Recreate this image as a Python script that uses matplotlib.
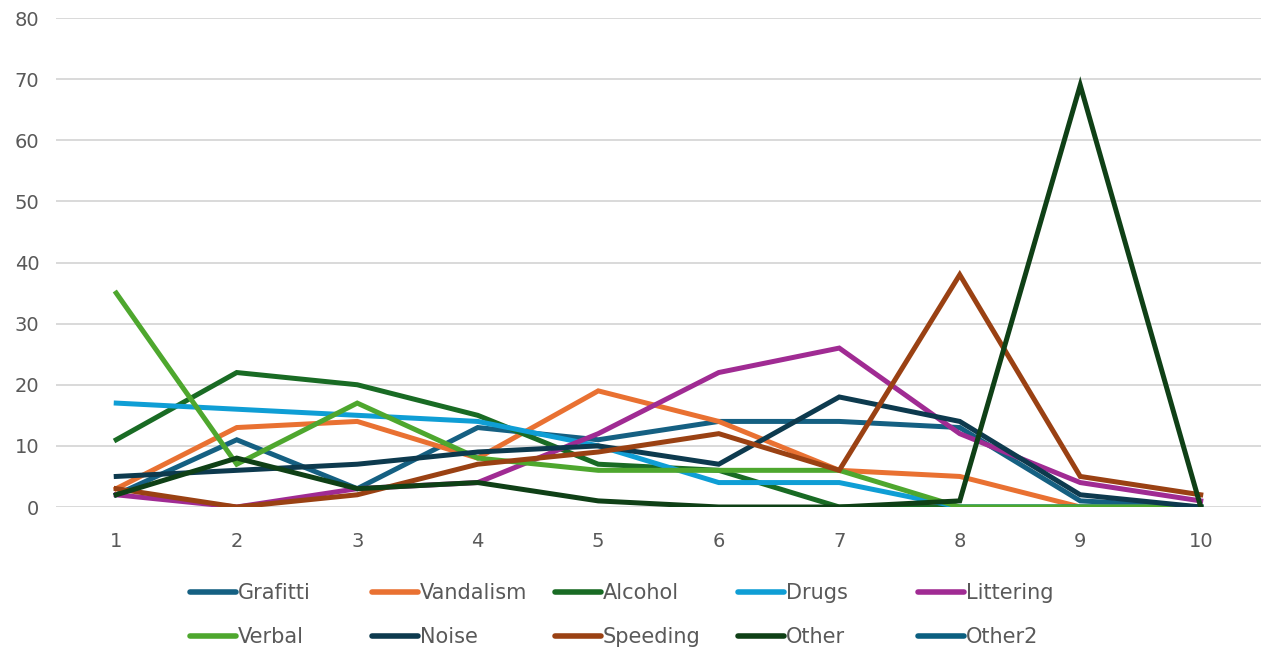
import numpy as np
import matplotlib.pyplot as plt
from matplotlib.lines import Line2D

weeks = [1, 2, 3, 4, 5, 6, 7, 8, 9, 10]

grafitti = [2, 11, 3, 13, 11, 14, 14, 13, 1, 0]
vandalism = [3, 13, 14, 8, 19, 14, 6, 5, 0, 0]
alcohol = [11, 22, 20, 15, 7, 6, 0, 0, 0, 0]
drugs = [17, 16, 15, 14, 10, 4, 4, 0, 0, 0]
littering = [2, 0, 3, 4, 12, 22, 26, 12, 4, 1]
verbal = [35, 7, 17, 8, 6, 6, 6, 0, 0, 0]
noise = [5, 6, 7, 9, 10, 7, 18, 14, 2, 0]
speeding = [3, 0, 2, 7, 9, 12, 6, 38, 5, 2]
other = [2, 8, 3, 4, 1, 0, 0, 1, 69, 0]
other2 = [np.nan] * 10  # no entries recorded

names = ["Grafitti", "Vandalism", "Alcohol", "Drugs", "Littering",
         "Verbal", "Noise", "Speeding", "Other", "Other2"]
series = [grafitti, vandalism, alcohol, drugs, littering,
          verbal, noise, speeding, other, other2]
colors = ["#156082", "#E97132", "#196B24", "#0F9ED5", "#A02B93",
          "#4EA72E", "#0D3A4E", "#9A4113", "#0F4016", "#0B5F80"]

fig = plt.figure(figsize=(12.61, 6.57), dpi=100)
ax = fig.add_axes([0.0444, 0.2283, 0.9556, 0.7443])

lw = 3.6
for vals, c in zip(series, colors):
    ax.plot(weeks, vals, color=c, lw=lw, solid_joinstyle='miter')

ax.set_xlim(0.5, 10.5)
ax.set_ylim(0, 80)
ax.set_yticks(range(0, 81, 10))
ax.set_xticks(weeks)
ax.grid(axis='y', color='#d9d9d9', lw=1.4)
ax.set_axisbelow(True)
for s in ax.spines.values():
    s.set_visible(False)
ax.tick_params(length=0, labelsize=14, labelcolor='#595959')
ax.tick_params(axis='y', pad=12)
ax.tick_params(axis='x', pad=18)

# legend: five columns of two entries, evenly spaced
col_x = [190, 372, 555, 738, 918]
W, H = 1261, 657
for i, x0 in enumerate(col_x):
    handles = [Line2D([], [], color=colors[i], lw=lw + 0.4, solid_capstyle='round'),
               Line2D([], [], color=colors[i + 5], lw=lw + 0.4, solid_capstyle='round')]
    fig.legend(handles, [names[i], names[i + 5]], loc='upper left',
               bbox_to_anchor=(x0 / W, 1 - 583 / H), frameon=False,
               fontsize=15, labelcolor='#595959', handlelength=2.2,
               handletextpad=0.1, borderpad=0, borderaxespad=0,
               labelspacing=1.15)

fig.savefig("out.png", dpi=100)
